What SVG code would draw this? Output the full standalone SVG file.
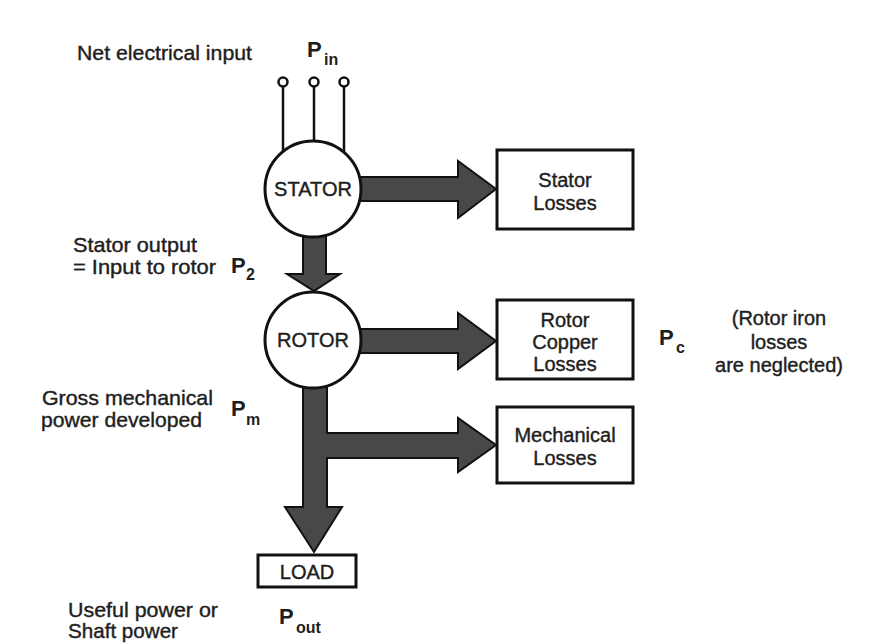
<svg xmlns="http://www.w3.org/2000/svg" width="869" height="644" viewBox="0 0 869 644">
<style>
text{font-family:"Liberation Sans",Arial,sans-serif;fill:#1e1e1e;font-size:20px;stroke:#1e1e1e;stroke-width:0.4}
.c{text-anchor:middle}
.l{font-size:21px}
.p{font-weight:bold;font-size:22px;stroke-width:0}
.s{font-weight:bold;font-size:16px;stroke-width:0}
.box{fill:#fff;stroke:#111;stroke-width:3}
.arr{fill:#484848;stroke:#111;stroke-width:2;stroke-linejoin:miter}
.wire{stroke:#111;stroke-width:2.5;fill:none}
.term{fill:#fff;stroke:#111;stroke-width:2.5}
</style>
<rect width="869" height="644" fill="#fff"/>
<g id="connectors">
<polygon class="arr" points="355,177 458,177 458,161 496,189 458,218 458,201 355,201"/>
<polygon class="arr" points="303,230 303,274 287,274 314,291 340,274 326,274 326,230"/>
<polygon class="arr" points="355,329 458,329 458,313 496,341 458,369 458,353 355,353"/>
<polygon class="arr" points="303,380 303,507 285,507 314,552 342,507 327,507 327,458 458,458 458,472 496,445 458,418 458,433 327,433 327,380"/>
<line class="wire" x1="283" y1="86" x2="283" y2="152"/>
<line class="wire" x1="314" y1="86" x2="314" y2="141"/>
<line class="wire" x1="344" y1="86" x2="344" y2="152"/>
</g>
<g id="terminals">
<circle class="term" cx="283" cy="82" r="4.5"/>
<circle class="term" cx="314" cy="82" r="4.5"/>
<circle class="term" cx="344" cy="82" r="4.5"/>
</g>
<g id="stator">
<circle class="box" cx="313" cy="189" r="48"/>
<text class="c" x="313" y="196">STATOR</text>
</g>
<g id="rotor">
<circle class="box" cx="313" cy="340" r="48"/>
<text class="c" x="313" y="347">ROTOR</text>
</g>
<g id="stator-losses">
<rect class="box" x="497" y="150" width="136" height="79"/>
<text class="c" x="565" y="187">Stator</text>
<text class="c" x="565" y="210">Losses</text>
</g>
<g id="rotor-copper-losses">
<rect class="box" x="497" y="300" width="136" height="79"/>
<text class="c" x="565" y="327">Rotor</text>
<text class="c" x="565" y="349">Copper</text>
<text class="c" x="565" y="371">Losses</text>
</g>
<g id="mechanical-losses">
<rect class="box" x="497" y="407" width="136" height="76"/>
<text class="c" x="565" y="442">Mechanical</text>
<text class="c" x="565" y="465">Losses</text>
</g>
<g id="load">
<rect class="box" x="258" y="555" width="98" height="32"/>
<text class="c" x="307" y="579">LOAD</text>
</g>
<g id="labels">
<text class="l" x="77" y="60" textLength="175" lengthAdjust="spacingAndGlyphs">Net electrical input</text>
<text class="p" x="307" y="57">P</text><text class="s" x="324" y="65">in</text>
<text class="l" x="73" y="252" textLength="124" lengthAdjust="spacingAndGlyphs">Stator output</text>
<text class="l" x="73" y="274" textLength="143" lengthAdjust="spacingAndGlyphs">= Input to rotor</text>
<text class="p" x="231" y="273">P</text><text class="s" x="246" y="280">2</text>
<text class="l" x="42" y="405" textLength="171" lengthAdjust="spacingAndGlyphs">Gross mechanical</text>
<text class="l" x="41" y="427" textLength="161" lengthAdjust="spacingAndGlyphs">power developed</text>
<text class="p" x="231" y="416">P</text><text class="s" x="246" y="425">m</text>
<text class="p" x="659" y="345">P</text><text class="s" x="676" y="353">c</text>
<text class="c" x="779" y="325">(Rotor iron</text>
<text class="c" x="779" y="349">losses</text>
<text class="c" x="779" y="372">are neglected)</text>
<text class="l" x="68" y="617" textLength="150" lengthAdjust="spacingAndGlyphs">Useful power or</text>
<text class="l" x="68" y="638" textLength="110" lengthAdjust="spacingAndGlyphs">Shaft power</text>
<text class="p" x="279" y="624">P</text><text class="s" x="296" y="633">out</text>
</g>
</svg>
